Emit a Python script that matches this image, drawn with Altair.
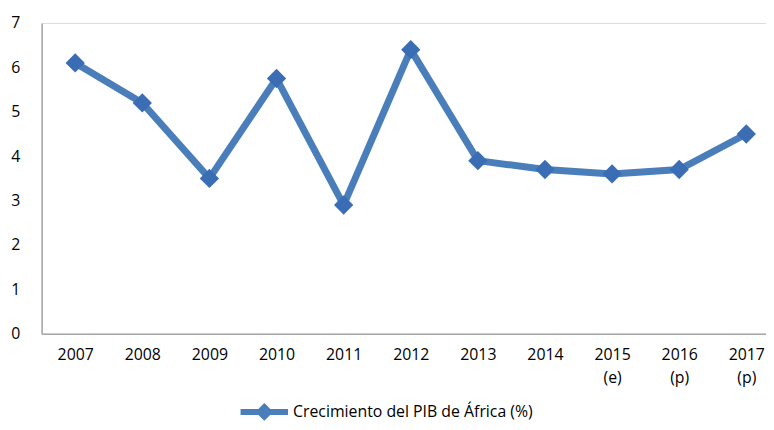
import altair as alt
import pandas as pd

years = ["2007", "2008", "2009", "2010", "2011", "2012", "2013", "2014",
         "2015 (e)", "2016 (p)", "2017 (p)"]
growth = [6.1, 5.2, 3.5, 5.75, 2.9, 6.4, 3.9, 3.7, 3.6, 3.7, 4.5]
series_name = "Crecimiento del PIB de África (%)"
y_ticks = [0, 1, 2, 3, 4, 5, 6, 7]

df = pd.DataFrame({"year": years, "growth": growth, "serie": [series_name] * len(years)})

FONT = "Open Sans"
LINE = "#4a7ebb"
MARK = "#3a6db4"

x = alt.X("year:N", sort=years, title=None,
          scale=alt.Scale(type="point", range=[0, 746], padding=0.5),
          axis=alt.Axis(labelExpr="split(datum.label, ' ')", labelAngle=0,
                        ticks=False, labelPadding=13, labelFontSize=16,
                        labelLineHeight=23, labelColor="#000000", labelFont=FONT,
                        domainColor="#a6a6a6", domainWidth=1.5, grid=False))
y = alt.Y("growth:Q", title=None,
          scale=alt.Scale(domain=[0, 7], nice=False),
          axis=alt.Axis(values=y_ticks, ticks=False, labelPadding=22,
                        labelFontSize=16, labelColor="#000000", labelFont=FONT,
                        domainColor="#a6a6a6", domainWidth=1.5, grid=False))

line = alt.Chart(df).mark_line(strokeWidth=7).encode(
    x=x, y=y,
    color=alt.Color("serie:N", scale=alt.Scale(range=[LINE]),
                    legend=alt.Legend(title=None, orient="none", legendX=198, legendY=366,
                                      symbolType="M-1,0L1,0M0,-0.2L0.2,0L0,0.2L-0.2,0Z",
                                      symbolSize=2304, symbolStrokeWidth=6,
                                      labelFontSize=16, labelFont=FONT, labelColor="#000000",
                                      labelOffset=2, labelLimit=500))
)

points = alt.Chart(df).mark_point(shape="diamond", filled=True, size=380, opacity=1,
                                  color=MARK).encode(x=x, y=y)

chart = (line + points).properties(
    width=732, height=314,
    autosize=alt.AutoSizeParams(type="none"),
    padding={"left": 34, "top": 13, "right": 0, "bottom": 87},
).configure_view(stroke=None).configure(background="white")

chart.save("out.html", embed_options={"renderer": "svg", "actions": False})
